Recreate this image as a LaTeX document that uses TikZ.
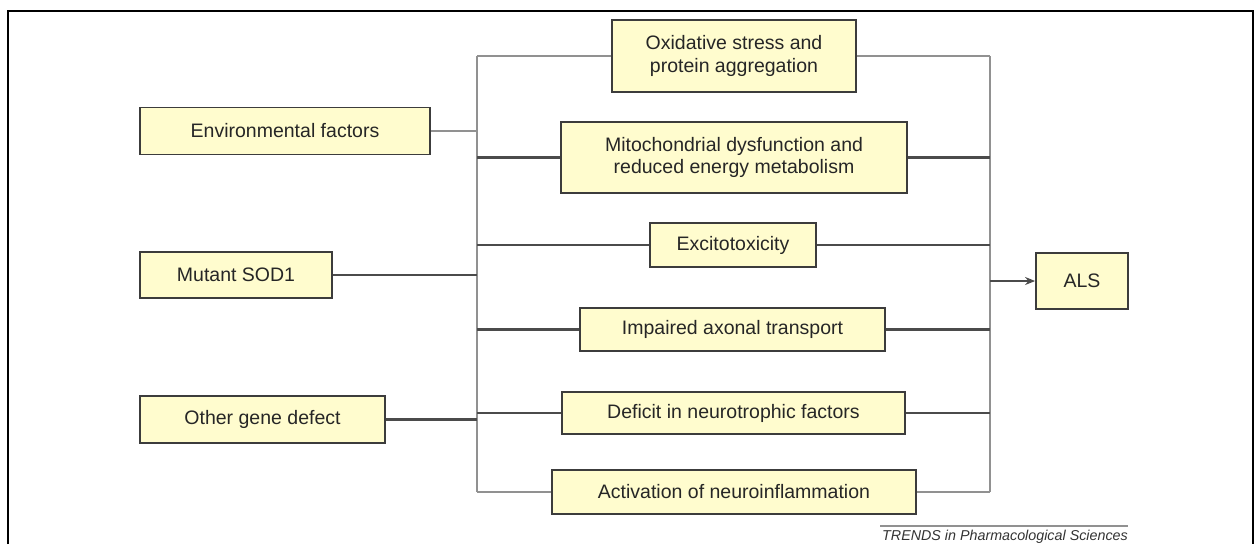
\documentclass[tikz,border=0pt]{standalone}
\usepackage{fontspec}
\setmainfont{Liberation Sans}
\usetikzlibrary{arrows.meta}
\definecolor{boxfill}{RGB}{255,252,206}
\definecolor{boxline}{RGB}{60,60,60}
\definecolor{darkline}{RGB}{75,75,75}
\definecolor{lightline}{RGB}{145,145,145}
\begin{document}
\begin{tikzpicture}[x=1pt,y=-1pt,
  box/.style={draw=boxline,line width=1.8pt,fill=boxfill,inner sep=0pt,
    align=center,text=black!85,font=\fontsize{19.5}{22.5}\selectfont},
  dk/.style={draw=darkline,line width=2.1pt},
  lt/.style={draw=lightline,line width=2.1pt}]
\useasboundingbox (0,0) rectangle (1255,544);
\draw[line width=2pt] (8,544) -- (8,11) -- (1253,11) -- (1253,544);
% left nodes
\node[box,minimum width=290,minimum height=47] (env) at (285,131) {Environmental factors};
\node[box,minimum width=192,minimum height=46] (sod) at (236,275) {Mutant SOD1};
\node[box,minimum width=245,minimum height=47] (oth) at (262.5,419.5) {Other gene defect};
% middle nodes
\node[box,minimum width=244,minimum height=72] (ox) at (734,56) {Oxidative stress and\\protein aggregation};
\node[box,minimum width=346,minimum height=71] (mito) at (734,157.5) {Mitochondrial dysfunction and\\reduced energy metabolism};
\node[box,minimum width=166,minimum height=44] (exc) at (733,245) {Excitotoxicity};
\node[box,minimum width=305,minimum height=43] (imp) at (732.5,329.5) {Impaired axonal transport};
\node[box,minimum width=343,minimum height=42] (def) at (733.5,413) {Deficit in neurotrophic factors};
\node[box,minimum width=364,minimum height=44] (act) at (734,492) {Activation of neuroinflammation};
% right node
\node[box,minimum width=92,minimum height=56] (als) at (1082,281) {ALS};
% buses
\coordinate (ltop) at (477,56);
\coordinate (lbot) at (477,492);
\coordinate (rtop) at (990,56);
\coordinate (rbot) at (990,492);
\draw[lt] (ltop) -- (lbot);
\draw[lt] (rtop) -- (rbot);
% inputs
\draw[lt] (env.east) -- (env.east -| ltop);
\draw[dk] (sod.east) -- (sod.east -| ltop);
\draw[dk] (oth.east) -- (oth.east -| ltop);
% branches left
\draw[lt] (ltop) -- (ox.west);
\draw[dk] (mito.west -| ltop) -- (mito.west);
\draw[dk] (exc.west -| ltop) -- (exc.west);
\draw[dk] (imp.west -| ltop) -- (imp.west);
\draw[dk] (def.west -| ltop) -- (def.west);
\draw[lt] (lbot) -- (act.west);
% branches right
\draw[lt] (ox.east) -- (rtop);
\draw[dk] (mito.east) -- (mito.east -| rtop);
\draw[dk] (exc.east) -- (exc.east -| rtop);
\draw[dk] (imp.east) -- (imp.east -| rtop);
\draw[dk] (def.east) -- (def.east -| rtop);
\draw[lt] (act.east) -- (rbot);
% arrow
\draw[dk,-{Stealth[length=10pt,width=8pt]}] (als.west -| rtop) -- (als.west);
% footer
\coordinate (fl) at (880,526);
\coordinate (fr) at (1128,526);
\draw[lightline,line width=1.4pt] (fl) -- (fr);
\node[anchor=base east,inner sep=0pt,font=\fontsize{14.3}{16}\selectfont\itshape,text=black!80] (src) at (1128,540) {TRENDS in Pharmacological Sciences};
\end{tikzpicture}
\end{document}
